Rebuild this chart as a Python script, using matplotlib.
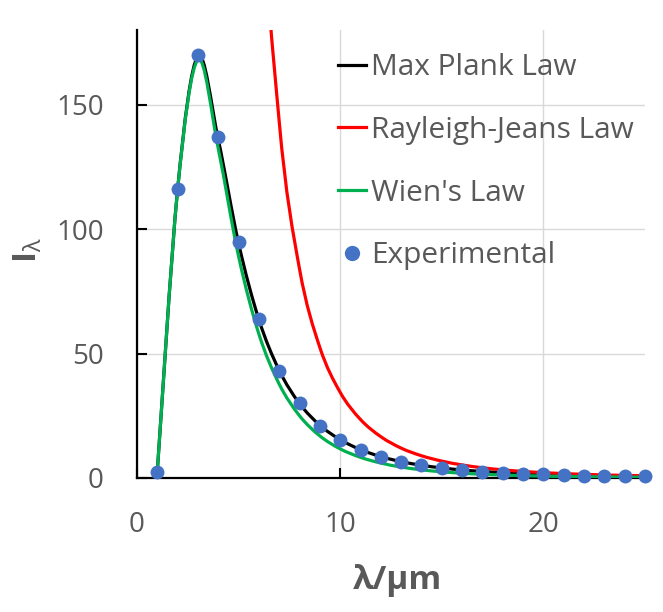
import matplotlib
matplotlib.use("Agg")
import matplotlib.pyplot as plt
from matplotlib.path import Path
from matplotlib.patches import PathPatch
from matplotlib.lines import Line2D

plt.rcParams['font.family'] = ['Open Sans', 'DejaVu Sans']
plt.rcParams['mathtext.fontset'] = 'custom'
plt.rcParams['mathtext.rm'] = 'Open Sans'
plt.rcParams['mathtext.bf'] = 'Open Sans:bold'
plt.rcParams['mathtext.it'] = 'Open Sans:italic'

# wavelength samples (micrometres)
wavelength = list(range(1, 26))
rj_wavelength = list(range(5, 26))

# spectral intensity at each wavelength
planck = [2.8, 116.1, 169.5, 136.0, 94.3, 63.6, 43.2, 29.9, 21.2, 15.4,
          11.4, 8.58, 6.58, 5.12, 4.04, 3.23, 2.62, 2.14, 1.76, 1.47,
          1.23, 1.04, 0.88, 0.76, 0.65]
rayleigh_jeans = [549.8, 265.1, 143.1, 83.9, 52.4, 34.4,
                  23.5, 16.6, 12.0, 8.94, 6.79, 5.24, 4.11, 3.27, 2.64, 2.15,
                  1.77, 1.47, 1.23, 1.04, 0.88]
wien = [2.8, 116.0, 168.1, 132.3, 89.0, 57.8, 37.7, 25.0, 16.9, 11.7,
        8.3, 6.0, 4.4, 3.29, 2.49, 1.92, 1.49, 1.18, 0.94, 0.75,
        0.61, 0.50, 0.41, 0.34, 0.29]
experimental = [2.5, 116, 170, 137, 95, 64, 43, 30, 21, 15.3,
                11.3, 8.6, 6.6, 5.1, 4.0, 3.2, 2.6, 2.1, 1.8, 1.5,
                1.2, 1.0, 0.9, 0.8, 0.7]

series_labels = ["Max Plank Law", "Rayleigh-Jeans Law", "Wien's Law", "Experimental"]
x_ticks = [0, 10, 20]
y_ticks = [0, 50, 100, 150]

TEXT = '#595959'
GRID = '#D9D9D9'
BLACK = '#000000'
RED = '#FF0000'
GREEN = '#00B050'
BLUE = '#4472C4'


def smooth_path(xs, ys):
    """Cubic Bezier path through the points (Catmull-Rom tangents)."""
    pts = list(zip(xs, ys))
    n = len(pts)
    verts = [pts[0]]
    codes = [Path.MOVETO]
    for i in range(n - 1):
        p0 = pts[i - 1] if i > 0 else pts[i]
        p1 = pts[i]
        p2 = pts[i + 1]
        p3 = pts[i + 2] if i + 2 < n else pts[i + 1]
        c1 = (p1[0] + (p2[0] - p0[0]) / 6.0, p1[1] + (p2[1] - p0[1]) / 6.0)
        c2 = (p2[0] - (p3[0] - p1[0]) / 6.0, p2[1] - (p3[1] - p1[1]) / 6.0)
        verts += [c1, c2, p2]
        codes += [Path.CURVE4] * 3
    return Path(verts, codes)


fig = plt.figure(figsize=(6.63, 6.12), dpi=100)
ax = fig.add_axes([137 / 663, 134 / 612, 508 / 663, 448 / 612])

lw = 2.3
for xs, ys, col in [(wavelength, planck, BLACK),
                    (rj_wavelength, rayleigh_jeans, RED),
                    (wavelength, wien, GREEN)]:
    patch = PathPatch(smooth_path(xs, ys), facecolor='none', edgecolor=col,
                      lw=lw, capstyle='round', joinstyle='round', zorder=3)
    ax.add_patch(patch)

ax.plot(wavelength, experimental, linestyle='none', marker='o', markersize=10,
        color=BLUE, markeredgewidth=0, zorder=4, clip_on=False)

ax.set_xlim(0, 25)
ax.set_ylim(0, 180)
ax.set_xticks(x_ticks)
ax.set_yticks(y_ticks)

ax.grid(True, color=GRID, lw=1.0, zorder=0)
ax.set_axisbelow(True)
for s in ['top', 'right']:
    ax.spines[s].set_visible(False)
for s in ['left', 'bottom']:
    ax.spines[s].set_color(BLACK)
    ax.spines[s].set_linewidth(1.6)

ax.tick_params(axis='both', direction='in', length=7, width=1.5, color=BLACK,
               labelsize=20, labelcolor=TEXT)
ax.tick_params(axis='x', pad=24)
ax.tick_params(axis='y', pad=24)

ax.set_xlabel('λ/μm', fontsize=24, fontweight='bold', color=TEXT)
ax.xaxis.set_label_coords((397 - 137) / 508, (612 - 564 - 134) / 448)
ax.set_ylabel(r'$\mathbf{I}_{\mathrm{λ}}$', fontsize=24, color=TEXT)
ax.yaxis.set_label_coords((45 - 137) / 508, (612 - 250 - 134) / 448)

handles = [
    Line2D([], [], color=BLACK, lw=lw),
    Line2D([], [], color=RED, lw=lw),
    Line2D([], [], color=GREEN, lw=lw),
    Line2D([], [], linestyle='none', marker='o', markersize=11, color=BLUE, markeredgewidth=0),
]
leg = ax.legend(handles, series_labels, loc='upper right', bbox_to_anchor=(1.01, 0.985),
                frameon=False, fontsize=21.5, labelcolor=TEXT, handlelength=0.95,
                handletextpad=0.15, labelspacing=1.13, borderaxespad=0.15)

fig.savefig('out.png', dpi=100)
